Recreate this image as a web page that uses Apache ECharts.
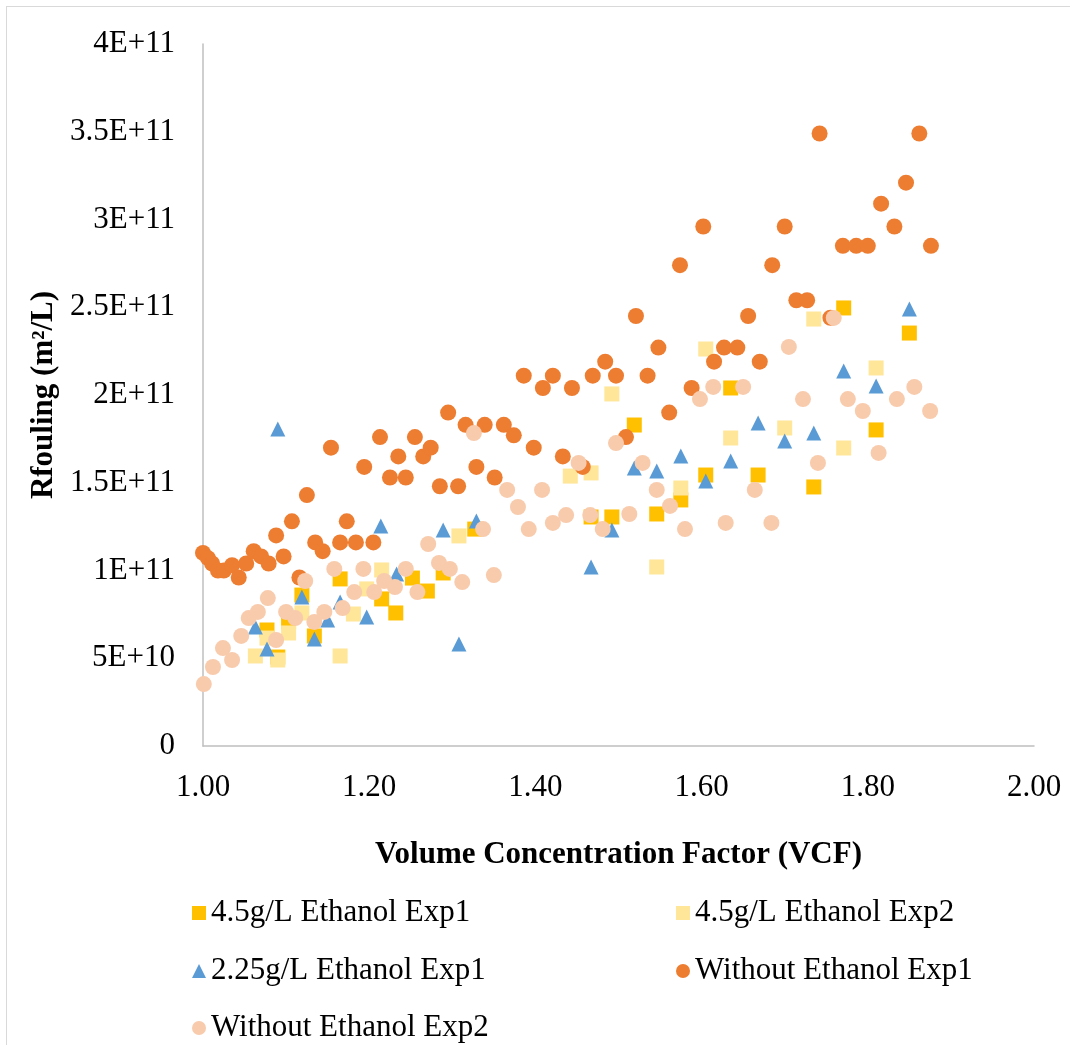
<!DOCTYPE html>
<html>
<head>
<meta charset="utf-8">
<script src="https://cdn.jsdelivr.net/npm/echarts@6/dist/echarts.min.js"></script>
<style>
  html, body { margin: 0; padding: 0; background: #fff; overflow: hidden; }
  #frame { position: absolute; left: 6px; top: 6px; width: 1200px; height: 1200px; border: 1px solid #D9D9D9; }
  #chart { position: absolute; left: 0; top: 0; width: 1070px; height: 1045px; }
</style>
</head>
<body>
<div id="frame"></div>
<div id="chart"></div>
<script>
// Rfouling values are stored in units of 1E+11 m2/L and scaled when the series are built.

const eth45Exp1X = [1.077, 1.090, 1.103, 1.119, 1.134, 1.165, 1.215, 1.232, 1.252, 1.270, 1.289, 1.327,
  1.467, 1.492, 1.519, 1.546, 1.575, 1.605, 1.635, 1.668, 1.735, 1.771, 1.810, 1.850];
const eth45Exp1Y = [0.661, 0.507, 0.707, 0.860, 0.627, 0.952, 0.838, 0.758, 0.957, 0.883, 0.986, 1.236,
  1.305, 1.305, 1.829, 1.322, 1.402, 1.544, 2.040, 1.544, 1.476, 2.496, 1.801, 2.353];

const eth45Exp2X = [1.063, 1.077, 1.090, 1.103, 1.119, 1.165, 1.181, 1.197, 1.215, 1.308, 1.442,
  1.467, 1.492, 1.546, 1.575, 1.605, 1.635, 1.700, 1.735, 1.771, 1.810];
const eth45Exp2Y = [0.513, 0.615, 0.490, 0.644, 0.758, 0.513, 0.752, 0.895, 1.003, 1.197, 1.538,
  1.556, 2.006, 1.020, 1.470, 2.262, 1.755, 1.812, 2.433, 1.698, 2.154];

const eth225Exp1X = [1.063, 1.077, 1.090, 1.119, 1.134, 1.150, 1.165, 1.197, 1.214, 1.233, 1.289, 1.308, 1.329,
  1.467, 1.492, 1.519, 1.546, 1.575, 1.605, 1.635, 1.668, 1.700, 1.735, 1.771, 1.810, 1.850];
const eth225Exp1Y = [0.678, 0.553, 1.806, 0.849, 0.610, 0.718, 0.821, 0.735, 1.254, 0.980, 1.231, 0.581, 1.282,
  1.020, 1.231, 1.584, 1.567, 1.652, 1.510, 1.624, 1.840, 1.738, 1.783, 2.137, 2.051, 2.490];

const noEthExp1X = [1.000, 1.006, 1.011, 1.018, 1.025, 1.035, 1.043, 1.052, 1.061, 1.070, 1.079, 1.088, 1.097,
  1.107, 1.116, 1.125, 1.135, 1.144, 1.154, 1.165, 1.173, 1.184, 1.194, 1.205, 1.213, 1.225, 1.235, 1.244,
  1.255, 1.265, 1.274, 1.285, 1.295, 1.307, 1.316, 1.329, 1.339, 1.351, 1.362, 1.374, 1.386, 1.398, 1.409,
  1.421, 1.433, 1.444, 1.457, 1.469, 1.484, 1.497, 1.509, 1.521, 1.535, 1.548, 1.561, 1.574, 1.588, 1.602,
  1.615, 1.627, 1.643, 1.656, 1.670, 1.685, 1.700, 1.714, 1.727, 1.742, 1.755, 1.770, 1.786, 1.800, 1.816,
  1.832, 1.846, 1.862, 1.876];
const noEthExp1Y = [1.10, 1.07, 1.04, 1.00, 1.00, 1.03, 0.96, 1.04, 1.11, 1.08, 1.04, 1.20, 1.08,
  1.28, 0.96, 1.43, 1.16, 1.11, 1.70, 1.16, 1.28, 1.16, 1.59, 1.16, 1.76, 1.53, 1.65, 1.53,
  1.76, 1.65, 1.70, 1.48, 1.90, 1.48, 1.83, 1.59, 1.83, 1.53, 1.83, 1.77, 2.11, 1.70, 2.04,
  2.11, 1.65, 2.04, 1.59, 2.11, 2.19, 2.11, 1.76, 2.45, 2.11, 2.27, 1.90, 2.74, 2.04, 2.96,
  2.19, 2.27, 2.27, 2.45, 2.19, 2.74, 2.96, 2.54, 2.54, 3.49, 2.44, 2.85, 2.85, 2.85, 3.09,
  2.96, 3.21, 3.49, 2.85];

const noEthExp2X = [1.001, 1.012, 1.024, 1.035, 1.046, 1.055, 1.066, 1.078, 1.088, 1.100, 1.111, 1.123, 1.134,
  1.146, 1.158, 1.168, 1.182, 1.193, 1.206, 1.218, 1.231, 1.244, 1.258, 1.271, 1.284, 1.297, 1.312, 1.326,
  1.337, 1.350, 1.366, 1.379, 1.392, 1.408, 1.421, 1.437, 1.452, 1.466, 1.481, 1.497, 1.513, 1.529, 1.546,
  1.562, 1.580, 1.598, 1.614, 1.629, 1.650, 1.664, 1.684, 1.705, 1.722, 1.740, 1.759, 1.776, 1.794, 1.813,
  1.835, 1.856, 1.875];
const noEthExp2Y = [0.353, 0.450, 0.558, 0.490, 0.627, 0.729, 0.764, 0.843, 0.604, 0.764, 0.729, 0.940, 0.707,
  0.764, 1.009, 0.786, 0.877, 1.009, 0.877, 0.940, 0.906, 1.009, 0.877, 1.151, 1.043, 1.009, 0.934, 1.783,
  1.236, 0.974, 1.459, 1.362, 1.236, 1.459, 1.271, 1.316, 1.613, 1.316, 1.236, 1.726, 1.322, 1.613, 1.459,
  1.368, 1.236, 1.977, 2.046, 1.271, 2.046, 1.459, 1.271, 2.274, 1.977, 1.613, 2.439, 1.977, 1.909, 1.670,
  1.977, 2.046, 1.909];

const seriesNames = ['4.5g/L Ethanol Exp1', '4.5g/L Ethanol Exp2', '2.25g/L Ethanol Exp1',
  'Without Ethanol Exp1', 'Without Ethanol Exp2'];

const FONT = "'Liberation Serif', 'Times New Roman', serif";
const UNIT = 1e11;

function pairs(xs, ys) {
  return xs.map((x, i) => [x, ys[i] * UNIT]);
}

const seriesDefs = [
  { name: seriesNames[0], xs: eth45Exp1X, ys: eth45Exp1Y, symbol: 'rect', color: '#FFC000', size: 15 },
  { name: seriesNames[1], xs: eth45Exp2X, ys: eth45Exp2Y, symbol: 'rect', color: '#FFE699', size: 15 },
  { name: seriesNames[2], xs: eth225Exp1X, ys: eth225Exp1Y, symbol: 'triangle', color: '#5B9BD5', size: 15 },
  { name: seriesNames[3], xs: noEthExp1X, ys: noEthExp1Y, symbol: 'circle', color: '#ED7D31', size: 16 },
  { name: seriesNames[4], xs: noEthExp2X, ys: noEthExp2Y, symbol: 'circle', color: '#F8CBAD', size: 16 }
];

// legend slots: two columns, three rows
const legendSlots = [
  { left: 192, top: 896 }, { left: 676, top: 896 },
  { left: 192, top: 954 }, { left: 676, top: 954 },
  { left: 192, top: 1011 }
];

const chart = echarts.init(document.getElementById('chart'), null, { renderer: 'canvas' });

chart.setOption({
  backgroundColor: 'transparent',
  animation: false,
  textStyle: { fontFamily: FONT },
  grid: { left: 203, right: 36, top: 44, bottom: 299, containLabel: false },
  xAxis: {
    type: 'value',
    min: 1, max: 2, interval: 0.2,
    name: 'Volume Concentration Factor (VCF)',
    nameLocation: 'middle',
    nameGap: 93,
    nameTextStyle: { fontFamily: FONT, fontSize: 31, fontWeight: 'bold', color: '#000' },
    axisLine: { lineStyle: { color: '#BFBFBF', width: 1.5 } },
    axisTick: { show: false },
    splitLine: { show: false },
    axisLabel: {
      fontFamily: FONT, fontSize: 31, color: '#000', margin: 26,
      formatter: v => v.toFixed(2)
    }
  },
  yAxis: {
    type: 'value',
    min: 0, max: 4e11, interval: 5e10,
    name: 'Rfouling (m²/L)',
    nameLocation: 'middle',
    nameGap: 144,
    nameRotate: 90,
    nameTextStyle: { fontFamily: FONT, fontSize: 31, fontWeight: 'bold', color: '#000' },
    axisLine: { show: true, lineStyle: { color: '#BFBFBF', width: 1.5 } },
    axisTick: { show: false },
    splitLine: { show: false },
    axisLabel: {
      fontFamily: FONT, fontSize: 31, color: '#000', margin: 28,
      formatter: v => v === 0 ? '0' : v.toExponential().replace('e', 'E')
    }
  },
  legend: seriesDefs.map((d, i) => ({
    data: [{ name: d.name, icon: d.symbol }],
    left: legendSlots[i].left,
    top: legendSlots[i].top,
    padding: 0,
    itemWidth: 14,
    itemHeight: 14,
    textStyle: { fontFamily: FONT, fontSize: 31, color: '#000', lineHeight: 34 }
  })),
  series: seriesDefs.map(d => ({
    name: d.name,
    type: 'scatter',
    symbol: d.symbol,
    symbolSize: d.size,
    itemStyle: { color: d.color, opacity: 1 },
    emphasis: { disabled: true },
    data: pairs(d.xs, d.ys)
  }))
});
</script>
</body>
</html>
